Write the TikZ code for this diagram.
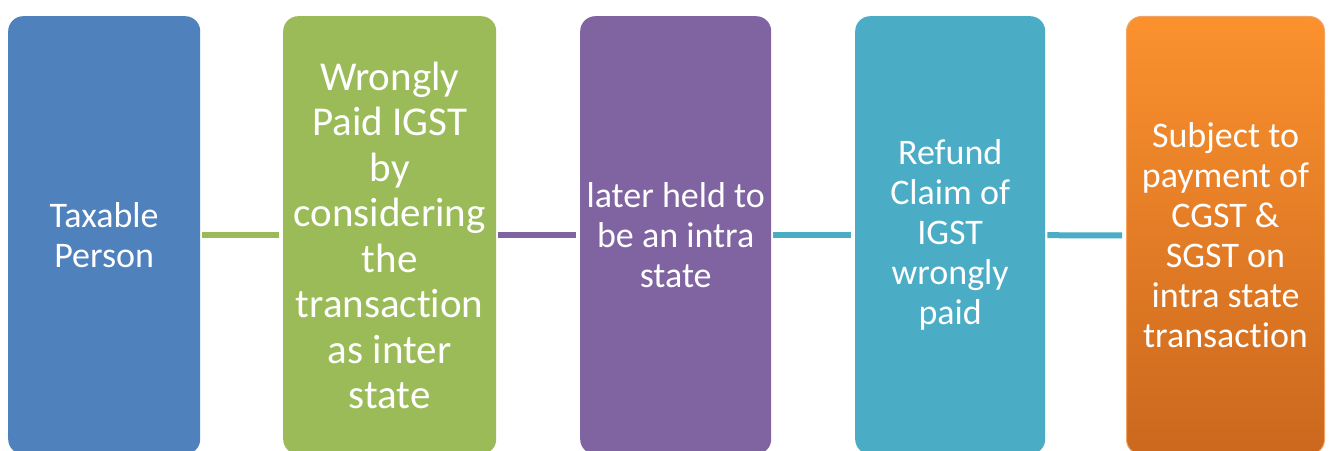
\documentclass[tikz,border=0pt]{standalone}
\usepackage{fontspec}
\setmainfont[Ligatures=NoCommon]{Carlito}
\begin{document}
\begin{tikzpicture}[x=1pt,y=1pt,
  box/.style={rectangle, rounded corners=15pt, minimum height=438pt, anchor=north west,
    inner sep=0pt, text=white, align=center, font=\fontsize{36}{40}\selectfont},
  link/.style={line width=6pt, shorten <=2pt, shorten >=4pt}]
\useasboundingbox (0,0) rectangle (1330,450);
\definecolor{cblue}{HTML}{4F81BD}
\definecolor{cgreen}{HTML}{9BBB59}
\definecolor{cpurple}{HTML}{8064A2}
\definecolor{cteal}{HTML}{4BACC6}
\definecolor{corangeT}{HTML}{FB912E}
\definecolor{corangeB}{HTML}{CB681E}
\definecolor{corangeL}{HTML}{F4A462}
\node[box, fill=cblue, minimum width=192pt] (a) at (8,434) {Taxable\\Person};
\node[box, fill=cgreen, minimum width=213pt, font=\fontsize{41}{45.5}\selectfont] (b) at (283,434)
  {Wrongly\\Paid IGST\\by\\considering\\the\\transaction\\as inter\\state};
\node[box, fill=cpurple, minimum width=191pt] (c) at (580,434) {later held to\\be an intra\\state};
\node[box, fill=cteal, minimum width=190pt] (d) at (855,434) {Refund\\Claim of\\IGST\\wrongly\\paid};
\node[box, top color=corangeT, bottom color=corangeB, draw=corangeL, line width=1pt, minimum width=198pt] (e) at (1126,434)
  {Subject to\\payment of\\CGST \&\\SGST on\\intra state\\transaction};
\draw[link, cgreen] (a.east) -- (b.west);
\draw[link, cpurple] (b.east) -- (c.west);
\draw[link, cteal] (c.east) -- (d.west);
\draw[link, cteal] (d.east) -- (e.west);
\end{tikzpicture}
\end{document}
